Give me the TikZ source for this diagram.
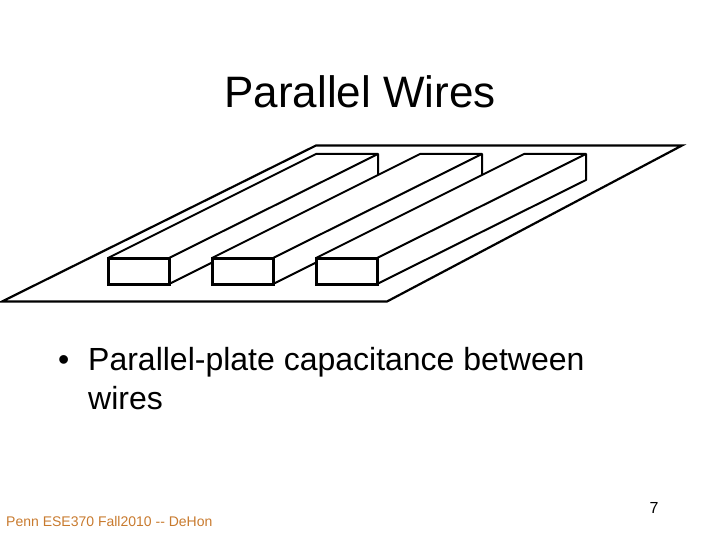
\documentclass[tikz,border=0pt]{standalone}
\usepackage{fontspec}
\setmainfont{Liberation Sans}
\definecolor{linie}{HTML}{000000}
\definecolor{texte}{HTML}{000000}
\definecolor{fusston}{HTML}{C87A2E}
\tikzset{
  platte/.style={draw=linie,fill=white,line width=2.2pt,line join=miter},
  kante/.style={draw=linie,fill=white,line width=2pt,line join=round},
  stirn/.style={draw=linie,fill=white,line width=3pt},
  titel/.style={texte,anchor=base,inner sep=0pt,font=\fontsize{44}{44}\selectfont},
  zeile/.style={texte,anchor=base west,inner sep=0pt,font=\fontsize{32}{32}\selectfont},
  fuss/.style={fusston,anchor=base west,inner sep=0pt,font=\fontsize{14}{14}\selectfont},
  seite/.style={texte,anchor=base,inner sep=0pt,font=\fontsize{16}{16}\selectfont},
}
\begin{document}
\begin{tikzpicture}[x=1pt,y=-1pt]
  \useasboundingbox (0,0) rectangle (720,540);
  % ground plate
  \draw[platte] (2,301.5)--(387,301.5)--(682,145.5)--(316,145.5)--cycle;
  % three wires, left one first so the next hides it
  \foreach \x in {0,104,208}{
    \draw[kante] (108+\x,258)--(316+\x,154)--(378+\x,154)--(378+\x,180)--(169+\x,284)--cycle;
    \draw[kante] (169+\x,258)--(378+\x,154);
    \draw[stirn] (108+\x,258) rectangle (169+\x,284);
  }
  \node[titel] (title) at (360,108) {Parallel Wires};
  \node[zeile] (bullet) at (58,370.5) {•};
  \node[zeile] (line one) at (88,370.5) {Parallel-plate capacitance between};
  \node[zeile] (line two) at (88,409) {wires};
  \node[fuss] (footer) at (6,526) {Penn ESE370 Fall2010 -{}- DeHon};
  \node[seite] (page) at (654,513) {7};
\end{tikzpicture}
\end{document}
